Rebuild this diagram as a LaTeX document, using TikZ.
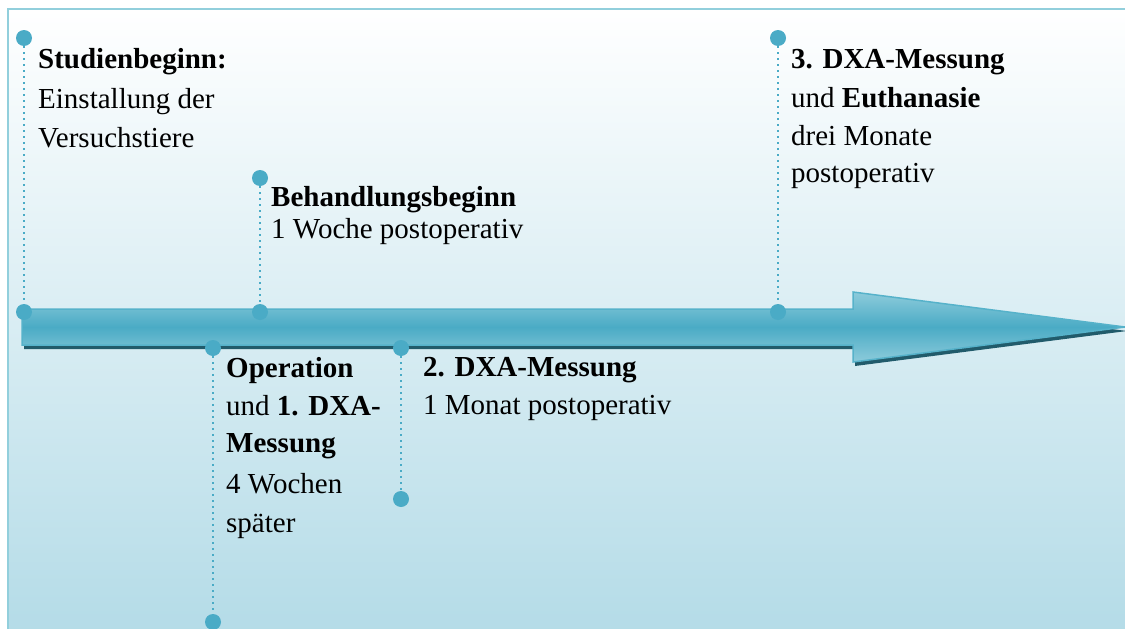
\documentclass[tikz,border=0pt]{standalone}
\usepackage{fontspec}
\setmainfont{Liberation Serif}
\definecolor{mk}{RGB}{74,171,198}
\definecolor{framec}{RGB}{146,207,220}
\definecolor{bgb}{RGB}{179,219,231}
\definecolor{arrm}{RGB}{74,171,197}
\definecolor{arrl}{RGB}{141,203,219}
\definecolor{arrb}{RGB}{86,178,202}
\definecolor{shadowc}{RGB}{33,91,107}
\begin{document}
\begin{tikzpicture}[x=1pt,y=-1pt,
  lbl/.style={anchor=base west, inner sep=0pt, font=\fontsize{29}{35}\selectfont},
  marker/.style={circle, fill=mk, draw=none, minimum size=16pt, inner sep=0pt},
  guide/.style={draw=mk, line width=2pt, dash pattern=on 2pt off 4pt}]
\useasboundingbox (0,0) rectangle (1125,629);
\clip (0,0) rectangle (1125,629);
\fill[white] (0,0) rectangle (1125,629);
\shade[top color=white, bottom color=bgb] (8,9) rectangle (1140,640);
\draw[draw=framec, line width=2.5pt] (8,9) rectangle (1140,640);
% arrow shadow
\fill[shadowc, shift={(2,4)}] (22,309) -- (853,309) -- (853,292) -- (1125,327) -- (853,362) -- (853,345) -- (22,345) -- cycle;
% arrow
\shade[top color=arrl, bottom color=arrl, middle color=arrm, draw=arrb, line width=1.5pt]
  (22,309) -- (853,309) -- (853,292) -- (1125,327) -- (853,362) -- (853,345) -- (22,345) -- cycle;
% markers
\node[marker] (a1) at (24,38) {};
\node[marker] (a2) at (24,312) {};
\node[marker] (b1) at (260,178) {};
\node[marker] (b2) at (260,312) {};
\node[marker] (c1) at (778,38) {};
\node[marker] (c2) at (778,312) {};
\node[marker] (d1) at (213,348) {};
\node[marker] (d2) at (213,622) {};
\node[marker] (e1) at (401,348) {};
\node[marker] (e2) at (401,499) {};
\draw[guide] (a1) -- (a2);
\draw[guide] (b1) -- (b2);
\draw[guide] (c1) -- (c2);
\draw[guide] (d1) -- (d2);
\draw[guide] (e1) -- (e2);
% texts
\node[lbl] (s1) at (38,68) {\textbf{Studienbeginn:}};
\node[lbl] (s2) at (38,108) {Einstallung der};
\node[lbl] (s3) at (38,147) {Versuchstiere};
\node[lbl] (t1) at (271,206) {\textbf{Behandlungsbeginn}};
\node[lbl] (t2) at (271,238) {1 Woche postoperativ};
\node[lbl] (u1) at (791,68) {\textbf{3. DXA-Messung}};
\node[lbl] (u2) at (791,107) {und \textbf{Euthanasie}};
\node[lbl] (u3) at (791,145) {drei Monate};
\node[lbl] (u4) at (791,182) {postoperativ};
\node[lbl] (v1) at (226,377) {\textbf{Operation}};
\node[lbl] (v2) at (226,415) {und \textbf{1. DXA-}};
\node[lbl] (v3) at (226,452) {\textbf{Messung}};
\node[lbl] (v4) at (226,493) {4 Wochen};
\node[lbl] (v5) at (226,532) {später};
\node[lbl] (w1) at (423,376) {\textbf{2. DXA-Messung}};
\node[lbl] (w2) at (423,414) {1 Monat postoperativ};
\end{tikzpicture}
\end{document}
